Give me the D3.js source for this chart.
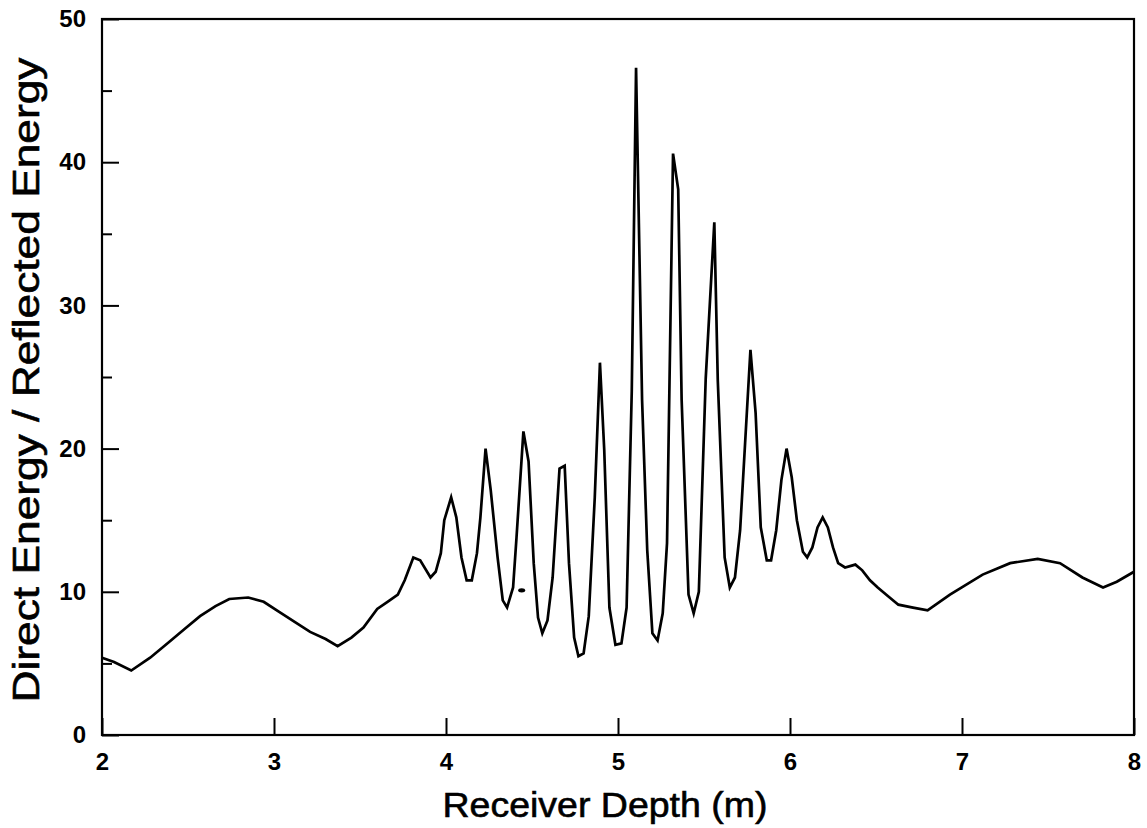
<!DOCTYPE html>
<html>
<head>
<meta charset="utf-8">
<script src="https://cdn.jsdelivr.net/npm/d3@7"></script>
<style>
  html, body { margin: 0; padding: 0; background: #fff; }
  svg { display: block; }
</style>
</head>
<body>
<div id="chart"></div>
<script>
'use strict';

/****************************** Data *************************************/

var depth = [2.00, 2.07, 2.17, 2.28, 2.39, 2.48, 2.57, 2.66, 2.74, 2.85,
  2.94, 3.03, 3.12, 3.21, 3.30, 3.37, 3.45, 3.52, 3.60, 3.66,
  3.72, 3.76, 3.81, 3.85, 3.91, 3.94, 3.97, 3.99, 4.03, 4.06,
  4.09, 4.12, 4.15, 4.18, 4.20, 4.23, 4.26, 4.30, 4.33, 4.355,
  4.39, 4.41, 4.45, 4.48, 4.51, 4.535, 4.56, 4.59, 4.62, 4.66,
  4.69, 4.715, 4.745, 4.77, 4.80, 4.83, 4.865, 4.895, 4.92, 4.95,
  4.985, 5.02, 5.05, 5.08, 5.105, 5.14, 5.17, 5.20, 5.23, 5.26,
  5.285, 5.32, 5.35, 5.37, 5.41, 5.44, 5.47, 5.51, 5.56, 5.58,
  5.62, 5.65, 5.68, 5.71, 5.77, 5.80, 5.83, 5.865, 5.89, 5.92,
  5.95, 5.98, 6.01, 6.04, 6.075, 6.10, 6.13, 6.16, 6.19, 6.22,
  6.25, 6.28, 6.32, 6.38, 6.42, 6.465, 6.51, 6.56, 6.63, 6.715,
  6.80, 6.93, 7.12, 7.28, 7.44, 7.57, 7.70, 7.82, 7.90, 8.00];

var ratio = [5.4, 5.1, 4.5, 5.4, 6.5, 7.4, 8.3, 9.0, 9.5, 9.6,
  9.3, 8.6, 7.9, 7.2, 6.7, 6.2, 6.8, 7.5, 8.8, 9.3,
  9.8, 10.8, 12.4, 12.2, 11.0, 11.4, 12.7, 15.0, 16.6, 15.2,
  12.4, 10.8, 10.8, 12.7, 15.2, 20.0, 17.1, 12.4, 9.4, 8.9,
  10.3, 13.8, 21.2, 19.1, 12.0, 8.2, 7.1, 8.0, 11.0, 18.6,
  18.8, 12.0, 6.8, 5.5, 5.7, 8.3, 16.6, 26.0, 19.9, 8.9,
  6.3, 6.4, 8.9, 24.0, 46.6, 23.4, 12.9, 7.1, 6.6, 8.5,
  13.4, 40.6, 38.1, 23.4, 9.8, 8.5, 10.0, 24.9, 35.8, 24.8,
  12.4, 10.3, 11.0, 14.3, 26.9, 22.5, 14.5, 12.2, 12.2, 14.3,
  17.8, 20.0, 18.0, 15.0, 12.8, 12.4, 13.1, 14.5, 15.2, 14.5,
  13.1, 12.0, 11.7, 11.9, 11.5, 10.8, 10.3, 9.8, 9.1, 8.9,
  8.7, 9.8, 11.2, 12.0, 12.3, 12.0, 11.0, 10.3, 10.7, 11.4];

// stray speck on the original plot
var speckDepth = [4.44];
var speckRatio = [10.1];

var xTicks = [2, 3, 4, 5, 6, 7, 8];
var yTicks = [0, 10, 20, 30, 40, 50];
var yMinorTicks = [5, 15, 25, 35, 45];

var xTitle = "Receiver Depth (m)";
var yTitle = "Direct Energy / Reflected Energy";

/**************************** Dimensions *********************************/

var width = 1147;
var height = 828;
var margin = {top: 19, right: 13, bottom: 93, left: 102};
var plotW = width - margin.left - margin.right;
var plotH = height - margin.top - margin.bottom;
var fontFamily = "'Liberation Sans', Arial, Helvetica, sans-serif";

var svg = d3.select("#chart").append("svg")
  .attr("width", width)
  .attr("height", height);

svg.append("rect")
  .attr("width", width).attr("height", height)
  .style("fill", "#fff");

var g = svg.append("g")
  .attr("transform", "translate(" + margin.left + "," + margin.top + ")");

var x = d3.scaleLinear().domain([2, 8]).range([0, plotW]);
var y = d3.scaleLinear().domain([0, 50]).range([plotH, 0]);

/******************************* Axes ************************************/

var xAxis = g.append("g")
  .attr("transform", "translate(0," + plotH + ")")
  .call(d3.axisBottom(x).tickValues(xTicks).tickSize(-17).tickPadding(18)
    .tickFormat(d3.format("d")));

var yAxis = g.append("g")
  .call(d3.axisLeft(y).tickValues(yTicks).tickSize(-17).tickPadding(16)
    .tickFormat(d3.format("d")));

var yMinor = g.append("g")
  .call(d3.axisLeft(y).tickValues(yMinorTicks).tickSize(-10).tickFormat(""));

[xAxis, yAxis, yMinor].forEach(function(a) {
  a.select(".domain").remove();
  a.selectAll("line").style("stroke", "#000").style("stroke-width", 2);
  a.selectAll("text")
    .style("font-family", fontFamily)
    .style("font-size", "24px")
    .style("font-weight", "bold")
    .style("fill", "#000");
});

g.append("rect")
  .attr("x", 0).attr("y", 0)
  .attr("width", plotW).attr("height", plotH)
  .style("fill", "none")
  .style("stroke", "#000")
  .style("stroke-width", 2.2);

/******************************* Curve ***********************************/

var points = depth.map(function(d, i) { return [d, ratio[i]]; });

var line = d3.line()
  .x(function(d) { return x(d[0]); })
  .y(function(d) { return y(d[1]); });

g.append("path")
  .datum(points)
  .attr("d", line)
  .style("fill", "none")
  .style("stroke", "#000")
  .style("stroke-width", 2.7)
  .style("stroke-linejoin", "miter");

g.selectAll(".speck")
  .data(speckDepth)
  .enter().append("ellipse")
  .attr("class", "speck")
  .attr("cx", function(d) { return x(d); })
  .attr("cy", function(d, i) { return y(speckRatio[i]); })
  .attr("rx", 3.5).attr("ry", 2.2)
  .style("fill", "#000");

/****************************** Titles ***********************************/

svg.append("text")
  .attr("x", 605)
  .attr("y", 817)
  .attr("text-anchor", "middle")
  .attr("textLength", 325)
  .attr("lengthAdjust", "spacingAndGlyphs")
  .style("font-family", fontFamily)
  .style("font-size", "35px")
  .style("stroke", "#000")
  .style("stroke-width", 0.6)
  .text(xTitle);

svg.append("text")
  .attr("transform", "translate(39,380) rotate(-90)")
  .attr("text-anchor", "middle")
  .attr("textLength", 645)
  .attr("lengthAdjust", "spacingAndGlyphs")
  .style("font-family", fontFamily)
  .style("font-size", "36px")
  .style("stroke", "#000")
  .style("stroke-width", 0.6)
  .text(yTitle);
</script>
</body>
</html>
